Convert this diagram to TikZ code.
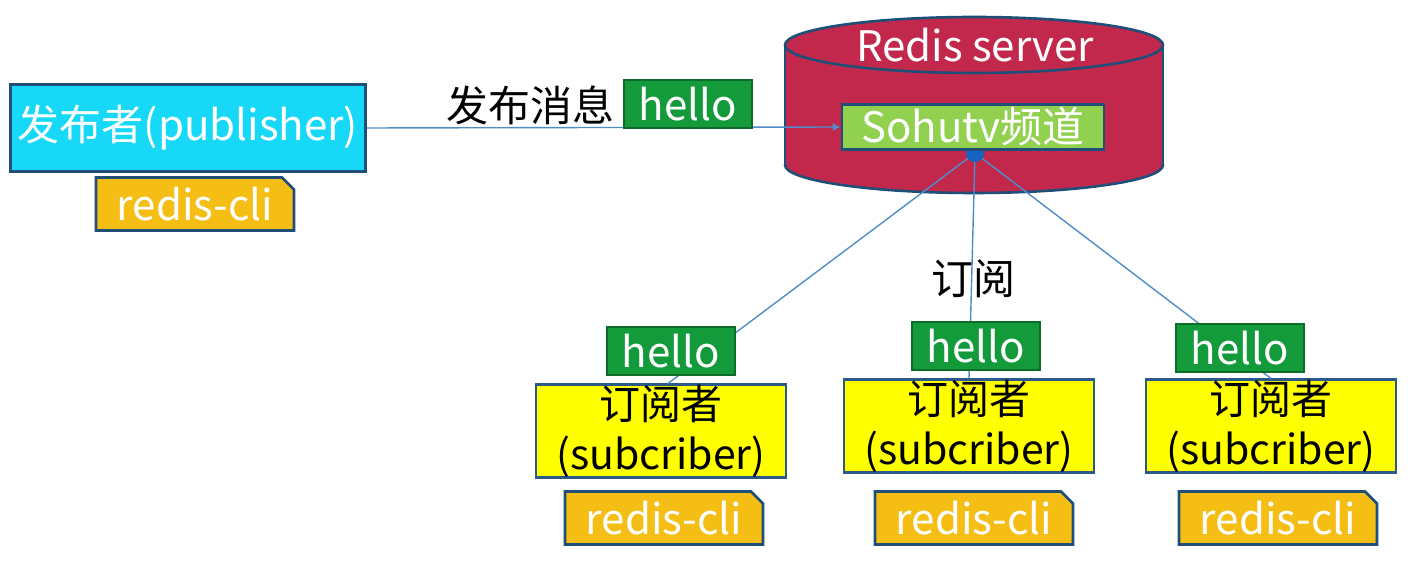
\documentclass[tikz,border=0pt]{standalone}
\usepackage{fontspec}
\setmainfont{Noto Sans CJK SC}
\usetikzlibrary{arrows.meta,positioning,shapes.misc,backgrounds}
\definecolor{rline}{HTML}{1F4E79}
\definecolor{rlink}{HTML}{4F8CC9}
\definecolor{rcyan}{HTML}{17D9F7}
\definecolor{rred}{HTML}{C2284B}
\definecolor{rchan}{HTML}{92D050}
\definecolor{rhello}{HTML}{139A3B}
\definecolor{ryellow}{HTML}{FFFF00}
\definecolor{rcli}{HTML}{F5BE14}
\definecolor{rdot}{HTML}{1565C0}

\begin{document}
\begin{tikzpicture}[x=0.5pt,y=-0.5pt,
  box/.style={draw=rline,line width=1.3pt,inner sep=0pt,align=center,
              font=\fontsize{21}{25}\selectfont},
  pubbox/.style={box,fill=rcyan,text=white,minimum width=177.5pt,minimum height=43.5pt},
  clibox/.style={box,chamfered rectangle,chamfered rectangle corners=north east,
                 chamfered rectangle xsep=3pt,chamfered rectangle ysep=3pt,
                 fill=rcli,text=white,minimum width=99pt,minimum height=26.5pt},
  msgbox/.style={box,draw=rhello!70!black,fill=rhello,text=white,line width=0.6pt,
                 minimum width=64pt,minimum height=24pt},
  subbox/.style={box,fill=ryellow,text=black,draw=rline!80!rlink,
                 minimum width=125pt,minimum height=46pt,
                 font=\fontsize{20.5}{25}\selectfont},
  chanbox/.style={box,fill=rchan,text=white,minimum width=131pt,minimum height=22.5pt},
  lbl/.style={inner sep=0pt,font=\fontsize{21}{25}\selectfont},
  link/.style={draw=rlink,line width=0.7pt}]
  \useasboundingbox (0,0) rectangle (1412,576);

  % redis server
  \fill[rred] (785,45) rectangle (1163,165);
  \fill[rred] (974,165) ellipse [x radius=189,y radius=28];
  \begin{scope}
    \clip (780,165) rectangle (1170,200);
    \draw[rline,line width=1.3pt] (974,165) ellipse [x radius=189,y radius=28];
  \end{scope}
  \draw[rline,line width=1.3pt] (785,45) -- (785,165) (1163,45) -- (1163,165);
  \draw[rline,line width=1.3pt,fill=rred] (974,45) ellipse [x radius=189,y radius=28];
  \node[lbl,text=white] (srv) at (975,45) {Redis server};
  \coordinate (tap) at (975,153);

  % publisher
  \node[pubbox] (pub) at (188,128) {发布者(publisher)};
  \node[clibox] (pubcli) at (195,204) {redis-cli};

  % subscribers
  \node[subbox] (sub1) at (661,431) {订阅者\\(subcriber)};
  \node[subbox] (sub2) at (969,426) {订阅者\\(subcriber)};
  \node[subbox] (sub3) at (1271,426) {订阅者\\(subcriber)};
  \node[clibox] (cli1) at (664,518) {redis-cli};
  \node[clibox] (cli2) at (974,518) {redis-cli};
  \node[clibox] (cli3) at (1278,518) {redis-cli};

  \draw[link] (tap) -- ([xshift=3.5pt]sub1.north);
  \draw[link] (tap) -- (sub2.north);
  \draw[link] (tap) -- (sub3.north);
  \fill[rdot] (tap) circle (4.5pt);

  \node[chanbox] (chan) at (973,127) {Sohutv频道};
  \draw[link,-{Latex[length=4pt,width=4pt]}] (pub.east) -- (chan.west);

  \node[lbl] (pubmsg) at (530,105) {发布消息};
  \node[msgbox] (msg0) at (688,104) {hello};
  \node[msgbox] (msg1) at (671,351) {hello};
  \node[msgbox] (msg2) at (976,346) {hello};
  \node[msgbox] (msg3) at (1240,348) {hello};
  \node[lbl] (sublbl) at (973,279) {订阅};
\end{tikzpicture}
\end{document}
